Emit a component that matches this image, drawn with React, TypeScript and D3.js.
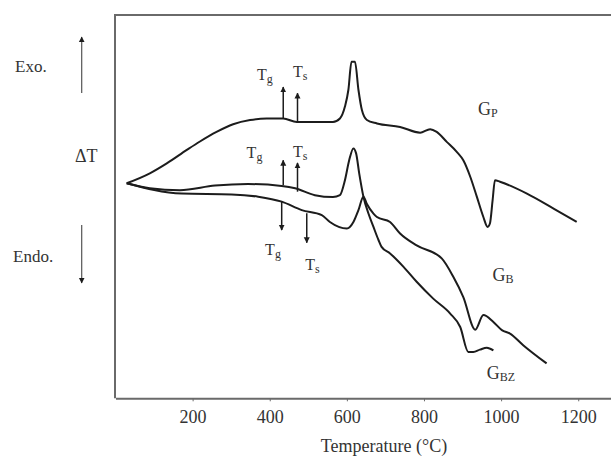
import React, { useEffect, useRef } from 'react';
import * as d3 from 'd3';

// DTA curves, [temperature °C, ΔT arbitrary units]
const gpCurve: [number, number][] = [
  [29, 56.1], [89, 58.7], [133, 61.3], [185, 64.8], [219, 67.0], [262, 69.5],
  [305, 71.5], [349, 72.6], [392, 73.0], [435, 73.0], [470, 72.1], [564, 72.1],
  [582, 73.0], [595, 76.1], [604, 80.5], [612, 87.8], [621, 87.8], [630, 80.5],
  [639, 75.2], [652, 72.6], [678, 71.7], [738, 70.8], [790, 69.3], [816, 70.2],
  [833, 69.5], [859, 66.9], [885, 64.3], [902, 62.1], [920, 57.8], [937, 52.6],
  [954, 47.3], [965, 44.7], [971, 45.6], [978, 51.7], [984, 56.9], [997, 56.5],
  [1067, 53.4], [1136, 49.5], [1196, 46.0],
];

const gbCurve: [number, number][] = [
  [29, 56.1], [89, 54.8], [167, 54.3], [258, 55.5], [344, 55.9], [431, 55.4],
  [466, 54.8], [517, 53.0], [564, 52.5], [582, 53.0], [595, 56.9], [606, 62.1],
  [617, 65.2], [624, 63.9], [632, 58.7], [643, 52.6], [656, 48.2], [669, 44.7],
  [682, 41.3], [690, 39.5], [712, 37.8], [747, 34.3], [781, 30.4], [824, 26.0],
  [868, 22.1], [894, 18.6], [915, 12.1], [928, 12.1], [945, 12.7], [963, 13.2],
  [980, 12.5],
];

const gbzCurve: [number, number][] = [
  [29, 56.1], [172, 53.4], [301, 53.2], [370, 52.6], [431, 51.3], [483, 49.1],
  [535, 47.8], [556, 46.0], [600, 44.3], [617, 46.0], [630, 49.1], [643, 52.6],
  [652, 50.7], [669, 48.2], [678, 47.3], [712, 46.0], [738, 43.0], [781, 39.9],
  [846, 36.5], [876, 31.7], [902, 26.4], [933, 17.9], [954, 21.7], [980, 19.9],
  [1002, 17.8], [1023, 16.9], [1058, 13.8], [1118, 9.1],
];

const xTicks = [200, 400, 600, 800, 1000, 1200];

// Tg / Ts arrows: temperature, ΔT start, ΔT tip
const transitionArrows: [number, number, number][] = [
  [435, 73.1, 81.2], [472, 72.1, 79.6],
  [435, 55.6, 62.1], [472, 53.9, 61.4],
  [431, 51.3, 43.9], [496, 48.3, 40.6],
];

// Tg / Ts labels: temperature, ΔT, subscript
const transitionLabels: [number, number, string][] = [
  [367, 83.0, 'g'], [460, 83.8, 's'],
  [340, 62.7, 'g'], [460, 62.9, 's'],
  [388, 37.3, 'g'], [492, 33.4, 's'],
];

const seriesLabels: [number, number, string][] = [
  [940, 73.9, 'P'],
  [978, 30.5, 'B'],
  [963, 5.0, 'BZ'],
];

export default function App() {
  const axisRef = useRef<SVGGElement>(null);

  const width = 611;
  const height = 457;
  const left = 115.5;
  const top = 15;
  const bottom = 398.3;

  const x = d3.scaleLinear().domain([0, 1285]).range([left, width]);
  const y = d3.scaleLinear().domain([0, 100]).range([bottom, top]);

  const line = d3
    .line<[number, number]>()
    .x((d) => x(d[0]))
    .y((d) => y(d[1]))
    .curve(d3.curveMonotoneX);

  useEffect(() => {
    const g = d3.select(axisRef.current);
    g.selectAll('*').remove();
    g.call(
      d3
        .axisBottom(x)
        .tickValues(xTicks)
        .tickFormat(d3.format('d'))
        .tickSizeInner(3)
        .tickSizeOuter(0)
        .tickPadding(9)
    );
    g.select('.domain').attr('stroke', '#6a6a6a').attr('stroke-width', 2);
    g.selectAll('.tick line').attr('stroke', '#6a6a6a');
    g.selectAll('.tick text')
      .attr('font-family', '"Liberation Serif", serif')
      .attr('font-size', 18)
      .attr('fill', '#333');
  }, []);

  const serif = '"Liberation Serif", "DejaVu Serif", serif';
  const ink = '#1c1c1c';

  return (
    <svg
      width={width}
      height={height}
      style={{ position: 'absolute', left: 0, top: 0, background: '#fff' }}
      fontFamily={serif}
    >
      <defs>
        <marker id="head" viewBox="0 0 10 10" refX="9" refY="5" markerWidth="6" markerHeight="8"
          markerUnits="userSpaceOnUse" orient="auto">
          <path d="M0,0 L10,5 L0,10 z" fill={ink} />
        </marker>
      </defs>

      {/* frame */}
      <line x1={left - 0.5} x2={left - 0.5} y1={top} y2={bottom} stroke="#6a6a6a" strokeWidth={2} />
      <line x1={left - 1.5} x2={width} y1={top} y2={top} stroke="#6a6a6a" strokeWidth={2} />
      <g ref={axisRef} transform={`translate(0,${bottom})`} />

      {/* left side legend */}
      <text x={15} y={72} fontSize={17} fill="#333">Exo.</text>
      <text x={13} y={262} fontSize={17} fill="#333">Endo.</text>
      <text x={75} y={162} fontSize={18} fill="#333">ΔT</text>
      <line x1={81.7} x2={81.7} y1={93} y2={37} stroke="#555" strokeWidth={1.2} markerEnd="url(#head)" />
      <line x1={81.7} x2={81.7} y1={225} y2={283} stroke="#555" strokeWidth={1.2} markerEnd="url(#head)" />

      {/* curves */}
      {[gpCurve, gbCurve, gbzCurve].map((c, i) => (
        <path key={i} d={line(c) ?? ''} fill="none" stroke={ink} strokeWidth={2} strokeLinejoin="round" />
      ))}

      {/* Tg / Ts markers */}
      {transitionArrows.map(([t, v0, v1], i) => (
        <line key={i} x1={x(t)} x2={x(t)} y1={y(v0)} y2={y(v1)} stroke={ink} strokeWidth={1.5}
          markerEnd="url(#head)" />
      ))}
      {transitionLabels.map(([t, v, sub], i) => (
        <text key={i} x={x(t)} y={y(v)} fontSize={16} fill="#333">
          T<tspan fontSize={12} dy={3}>{sub}</tspan>
        </text>
      ))}

      {/* series labels */}
      {seriesLabels.map(([t, v, sub], i) => (
        <text key={i} x={x(t)} y={y(v)} fontSize={18} fill="#333">
          G<tspan fontSize={12} dy={2}>{sub}</tspan>
        </text>
      ))}

      <text x={384} y={452} fontSize={18} fill="#333" textAnchor="middle">Temperature (°C)</text>
    </svg>
  );
}
